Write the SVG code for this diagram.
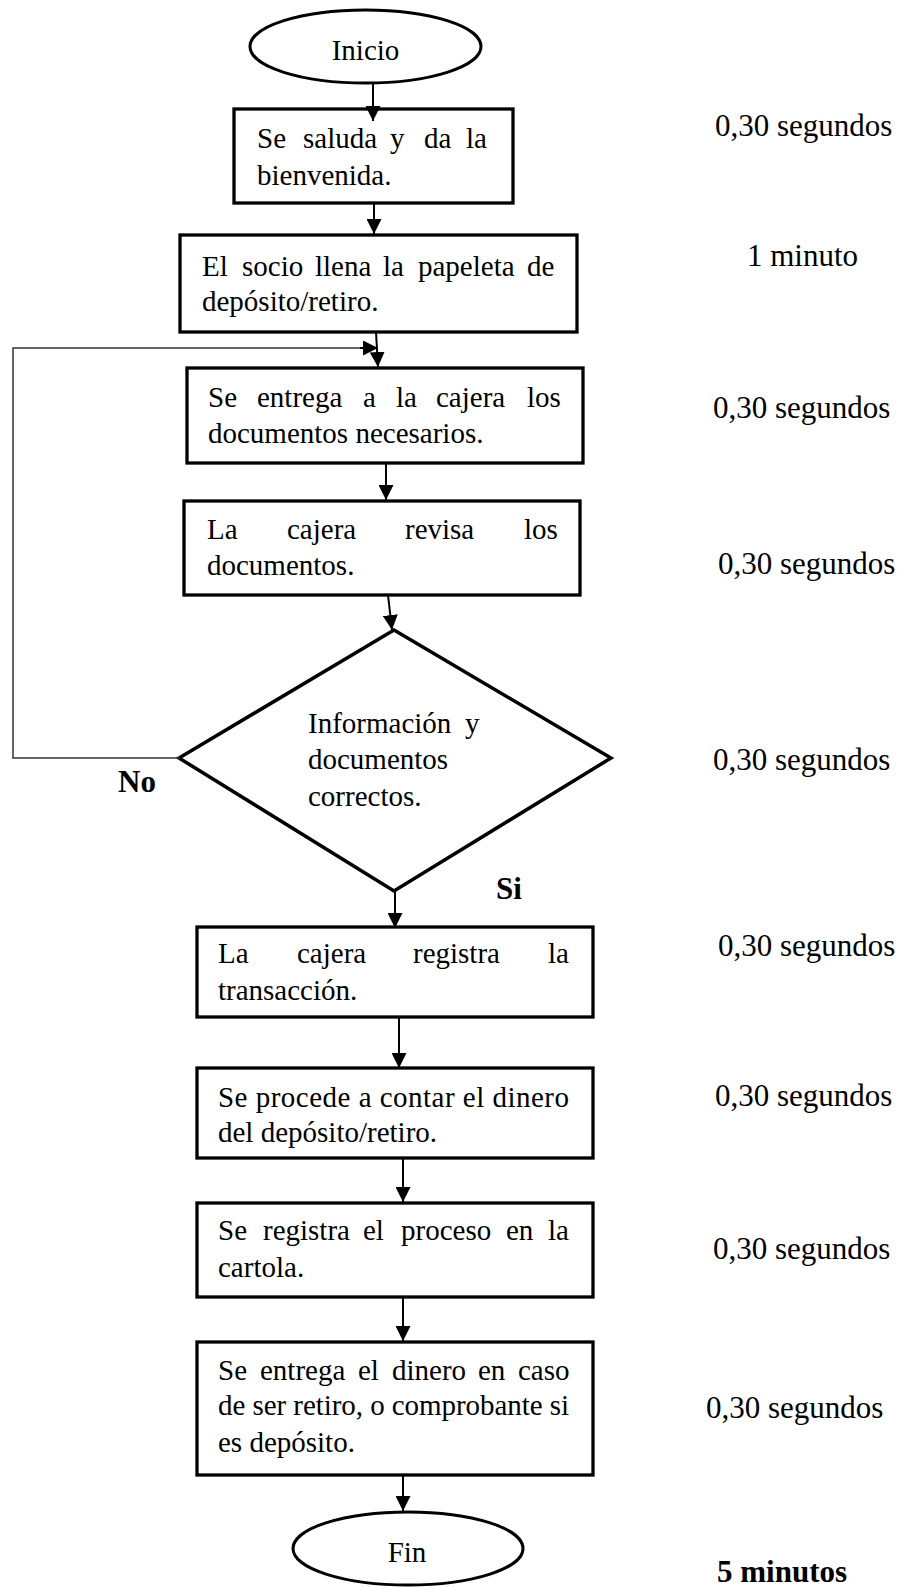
<svg xmlns="http://www.w3.org/2000/svg" width="905" height="1587" viewBox="0 0 905 1587">
<style>
  .box { fill: #fff; stroke: #000; stroke-width: 3.3; }
  .term { fill: #fff; stroke: #000; stroke-width: 3; }
  .dec { fill: #fff; stroke: #000; stroke-width: 3.5; stroke-linejoin: miter; }
  .t { font-family: "Liberation Serif", "Times New Roman", serif; font-size: 29px; fill: #000; }
  .lbl { font-family: "Liberation Serif", "Times New Roman", serif; font-size: 31px; fill: #000; }
  .b { font-weight: bold; }
  .arr { stroke: #000; stroke-width: 2; fill: none; marker-end: url(#ah); }
  .loop { stroke: #333; stroke-width: 1.5; fill: none; }
</style>
<defs>
  <marker id="ah" markerUnits="userSpaceOnUse" markerWidth="15" markerHeight="15" refX="15" refY="7.5" orient="auto">
    <path d="M0,0 L15,7.5 L0,15 z" fill="#000"/>
  </marker>
</defs>
<rect width="905" height="1587" fill="#fff"/>

<g id="inicio">
  <ellipse class="term" cx="365.5" cy="46.5" rx="115.5" ry="36.5"/>
  <text class="t" x="365.5" y="60" text-anchor="middle">Inicio</text>
</g>

<g id="n1">
  <rect class="box" x="234" y="109" width="279" height="94"/>
  <text class="t" y="148"><tspan x="257">Se</tspan><tspan x="303">saluda</tspan><tspan x="390">y</tspan><tspan x="424">da</tspan><tspan x="466">la</tspan></text>
  <text class="t" x="257" y="185">bienvenida.</text>
</g>

<g id="n2">
  <rect class="box" x="180" y="235" width="397" height="97"/>
  <text class="t" y="276"><tspan x="202">El</tspan><tspan x="242">socio</tspan><tspan x="315">llena</tspan><tspan x="383">la</tspan><tspan x="418">papeleta</tspan><tspan x="527">de</tspan></text>
  <text class="t" x="202" y="311">depósito/retiro.</text>
</g>

<g id="n3">
  <rect class="box" x="187" y="368" width="396" height="95"/>
  <text class="t" y="407"><tspan x="208">Se</tspan><tspan x="257">entrega</tspan><tspan x="363">a</tspan><tspan x="396">la</tspan><tspan x="436">cajera</tspan><tspan x="527">los</tspan></text>
  <text class="t" x="208" y="443">documentos necesarios.</text>
</g>

<g id="n4">
  <rect class="box" x="184" y="501" width="396" height="94"/>
  <text class="t" y="539"><tspan x="207">La</tspan><tspan x="287">cajera</tspan><tspan x="405">revisa</tspan><tspan x="524">los</tspan></text>
  <text class="t" x="207" y="575">documentos.</text>
</g>

<g id="decision">
  <polygon class="dec" points="394,630 611,758 394,891 179,758"/>
  <text class="t" y="733"><tspan x="308">Información</tspan><tspan x="465">y</tspan></text>
  <text class="t" x="308" y="769">documentos</text>
  <text class="t" x="308" y="806">correctos.</text>
</g>

<g id="n5">
  <rect class="box" x="197" y="927" width="396" height="90"/>
  <text class="t" y="963"><tspan x="218">La</tspan><tspan x="297">cajera</tspan><tspan x="413">registra</tspan><tspan x="548">la</tspan></text>
  <text class="t" x="218" y="1000">transacción.</text>
</g>

<g id="n6">
  <rect class="box" x="197" y="1068" width="396" height="90"/>
  <text class="t" x="218" y="1107" textLength="351" lengthAdjust="spacing">Se procede a contar el dinero</text>
  <text class="t" x="218" y="1142">del depósito/retiro.</text>
</g>

<g id="n7">
  <rect class="box" x="197" y="1203" width="396" height="94"/>
  <text class="t" y="1240"><tspan x="218">Se</tspan><tspan x="263">registra</tspan><tspan x="363">el</tspan><tspan x="401">proceso</tspan><tspan x="506">en</tspan><tspan x="548">la</tspan></text>
  <text class="t" x="218" y="1277">cartola.</text>
</g>

<g id="n8">
  <rect class="box" x="197" y="1342" width="396" height="133"/>
  <text class="t" y="1380"><tspan x="218">Se</tspan><tspan x="260">entrega</tspan><tspan x="358">el</tspan><tspan x="392">dinero</tspan><tspan x="478">en</tspan><tspan x="518">caso</tspan></text>
  <text class="t" x="218" y="1415" textLength="351" lengthAdjust="spacing">de ser retiro, o comprobante si</text>
  <text class="t" x="218" y="1452">es depósito.</text>
</g>

<g id="fin">
  <ellipse class="term" cx="408" cy="1548.5" rx="115" ry="36.5"/>
  <text class="t" x="407" y="1562" text-anchor="middle">Fin</text>
</g>

<g id="labels">
  <text class="lbl b" x="118" y="792">No</text>
  <text class="lbl b" x="496" y="899">Si</text>
  <text class="lbl" x="715" y="136">0,30 segundos</text>
  <text class="lbl" x="747" y="266">1 minuto</text>
  <text class="lbl" x="713" y="418">0,30 segundos</text>
  <text class="lbl" x="718" y="574">0,30 segundos</text>
  <text class="lbl" x="713" y="770">0,30 segundos</text>
  <text class="lbl" x="718" y="956">0,30 segundos</text>
  <text class="lbl" x="715" y="1106">0,30 segundos</text>
  <text class="lbl" x="713" y="1259">0,30 segundos</text>
  <text class="lbl" x="706" y="1418">0,30 segundos</text>
  <text class="lbl b" x="717" y="1582">5 minutos</text>
</g>

<g id="connectors">
  <line class="arr" x1="373" y1="83" x2="373" y2="121"/>
  <line class="arr" x1="374" y1="203" x2="374" y2="234"/>
  <line class="arr" x1="376" y1="332" x2="378" y2="367"/>
  <polyline class="loop" points="180,758 13,758 13,348 362,348"/>
  <line class="arr" x1="360" y1="348" x2="378" y2="348" stroke-width="1.5"/>
  <line class="arr" x1="386" y1="463" x2="386" y2="500"/>
  <line class="arr" x1="388" y1="595" x2="392" y2="630"/>
  <line class="arr" x1="395" y1="892" x2="395" y2="928"/>
  <line class="arr" x1="399" y1="1017" x2="399" y2="1068"/>
  <line class="arr" x1="403" y1="1158" x2="403" y2="1202"/>
  <line class="arr" x1="403" y1="1297" x2="403" y2="1341"/>
  <line class="arr" x1="403" y1="1475" x2="403" y2="1511"/>
</g>
</svg>
